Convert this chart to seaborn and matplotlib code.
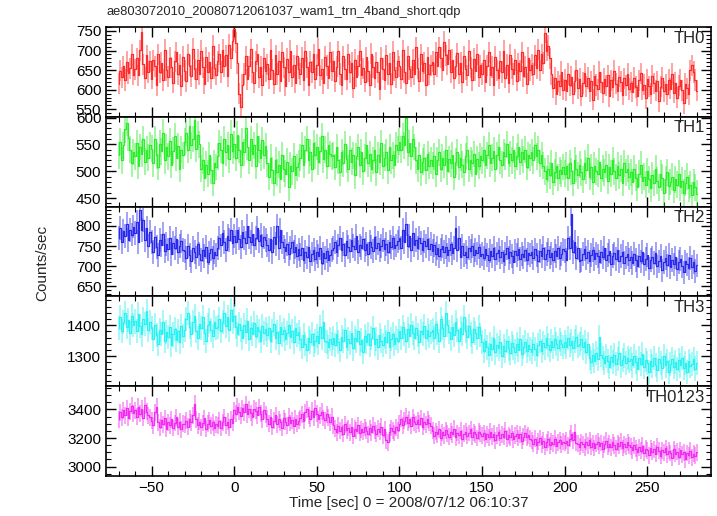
import numpy as np
import pandas as pd
import matplotlib
matplotlib.use("Agg")
import matplotlib.pyplot as plt
import seaborn as sns
from matplotlib.ticker import MultipleLocator

# 1 s time bins starting at t = -70 s
time_start = -70

th0 = [615, 648, 632, 660, 625, 671, 642, 655, 690, 638,
       652, 680, 637, 701, 748, 665, 630, 688, 645, 672,
       628, 675, 660, 612, 690, 645, 668, 625, 702, 650,
       633, 681, 657, 618, 672, 695, 640, 663, 610, 684,
       648, 622, 690, 661, 635, 705, 652, 628, 676, 640,
       699, 657, 615, 683, 646, 670, 630, 712, 655, 638,
       672, 690, 645, 702, 660, 688, 635, 715, 680, 725,
       755, 720, 668, 590, 555, 612, 640, 685, 627, 660,
       703, 645, 618, 672, 690, 632, 658, 611, 680, 647,
       665, 628, 702, 651, 615, 688, 640, 673, 622, 695,
       657, 610, 679, 646, 700, 633, 662, 618, 687, 654,
       640, 682, 625, 698, 657, 612, 671, 645, 690, 628,
       663, 705, 637, 652, 617, 684, 661, 630, 695, 648,
       672, 621, 659, 698, 640, 613, 685, 652, 627, 690,
       645, 668, 605, 677, 633, 661, 700, 638, 655, 620,
       683, 647, 612, 692, 658, 631, 670, 644, 602, 681,
       653, 626, 688, 640, 667, 615, 697, 650, 632, 674,
       660, 628, 701, 645, 617, 685, 652, 633, 676, 640,
       708, 655, 622, 690, 647, 668, 612, 683, 639, 662,
       671, 640, 695, 660, 708, 682, 650, 722, 688, 665,
       702, 645, 676, 630, 660, 693, 641, 668, 619, 685,
       652, 637, 700, 656, 625, 679, 648, 690, 633, 662,
       640, 675, 620, 661, 695, 637, 658, 612, 684, 650,
       629, 672, 645, 700, 631, 663, 618, 689, 654, 640,
       676, 623, 667, 648, 695, 634, 658, 615, 682, 650,
       663, 640, 688, 655, 702, 650, 690, 668, 745, 700,
       712, 680, 640, 605, 630, 588, 622, 610, 645, 600,
       625, 598, 640, 611, 633, 590, 622, 650, 604, 628,
       585, 617, 642, 609, 630, 596, 621, 575, 636, 612,
       601, 645, 619, 592, 628, 610, 637, 583, 624, 606,
       648, 615, 598, 633, 620, 587, 629, 611, 640, 602,
       618, 595, 630, 607, 585, 624, 642, 600, 613, 578,
       627, 609, 590, 635, 616, 598, 622, 571, 608, 630,
       596, 614, 588, 625, 603, 640, 592, 618, 580, 610,
       626, 599, 565, 615, 604, 588, 650, 662, 645, 625, 598]

th1 = [530, 555, 520, 548, 578, 590, 562, 540, 515, 536,
       528, 552, 510, 545, 533, 560, 518, 540, 525, 548,
       542, 515, 560, 530, 508, 551, 537, 572, 520, 545,
       528, 556, 512, 538, 565, 525, 547, 505, 540, 530,
       555, 572, 540, 585, 548, 560, 595, 542, 568, 550,
       505, 520, 488, 512, 495, 530, 502, 478, 515, 508,
       528, 552, 540, 515, 560, 535, 548, 522, 570, 538,
       550, 525, 568, 540, 512, 555, 535, 580, 545, 520,
       560, 532, 548, 510, 565, 540, 525, 558, 530, 547,
       515, 490, 525, 502, 478, 520, 498, 512, 485, 530,
       505, 495, 518, 470, 510, 500, 528, 492, 507, 515,
       525, 548, 512, 540, 560, 520, 535, 505, 552, 530,
       545, 518, 538, 565, 522, 540, 510, 548, 532, 528,
       530, 508, 545, 520, 498, 535, 515, 550, 522, 505,
       540, 518, 530, 492, 528, 545, 512, 535, 500, 525,
       548, 515, 532, 505, 520, 540, 498, 530, 518, 552,
       510, 525, 535, 502, 545, 520, 530, 512, 548, 540,
       555, 540, 565, 548, 600, 535, 552, 528, 560, 545,
       520, 505, 530, 498, 518, 525, 502, 532, 510, 520,
       510, 528, 495, 520, 535, 505, 525, 512, 540, 500,
       522, 515, 530, 490, 518, 535, 508, 525, 512, 498,
       528, 540, 505, 520, 515, 532, 495, 522, 510, 528,
       520, 540, 512, 530, 548, 515, 525, 538, 505, 530,
       545, 520, 512, 535, 528, 550, 515, 532, 520, 540,
       510, 528, 545, 518, 535, 522, 540, 508, 530, 525,
       535, 520, 548, 528, 540, 515, 530, 510, 500, 485,
       505, 492, 515, 480, 498, 510, 488, 502, 495, 508,
       495, 510, 488, 515, 500, 478, 520, 505, 492, 512,
       498, 485, 515, 502, 525, 490, 508, 480, 510, 500,
       495, 518, 487, 505, 498, 512, 482, 508, 495, 520,
       500, 488, 510, 492, 505, 478, 515, 498, 505, 490,
       498, 480, 505, 488, 470, 495, 512, 482, 490, 475,
       500, 485, 468, 492, 478, 505, 482, 470, 495, 488,
       460, 485, 498, 472, 480, 490, 465, 485, 475, 495,
       470, 482, 460, 478, 490, 468, 475, 455, 480, 470, 458]

th2 = [770, 795, 760, 788, 775, 805, 765, 790, 778, 798,
       782, 810, 760, 840, 790, 815, 765, 795, 750, 785,
       760, 735, 772, 748, 728, 765, 752, 780, 738, 755,
       742, 770, 730, 758, 745, 768, 735, 750, 762, 740,
       738, 720, 750, 728, 712, 745, 735, 722, 755, 730,
       715, 740, 725, 748, 710, 733, 742, 720, 735, 728,
       745, 770, 752, 782, 760, 740, 775, 765, 790, 758,
       775, 760, 790, 768, 748, 785, 770, 758, 800, 772,
       760, 780, 752, 770, 795, 762, 778, 750, 772, 765,
       752, 740, 768, 735, 772, 755, 800, 745, 790, 760,
       748, 738, 755, 730, 745, 760, 735, 748, 725, 742,
       728, 745, 715, 735, 722, 748, 712, 730, 740, 718,
       735, 725, 745, 708, 732, 720, 738, 715, 728, 740,
       745, 760, 735, 752, 770, 740, 755, 728, 762, 748,
       738, 765, 750, 742, 775, 735, 752, 745, 768, 740,
       755, 730, 760, 748, 738, 772, 745, 758, 740, 750,
       765, 742, 755, 735, 760, 748, 770, 745, 752, 762,
       770, 745, 790, 760, 805, 750, 775, 740, 782, 752,
       765, 745, 770, 758, 740, 762, 750, 768, 742, 755,
       738, 752, 730, 745, 725, 742, 750, 735, 748, 728,
       740, 755, 732, 745, 795, 740, 770, 722, 750, 728,
       735, 722, 745, 738, 750, 728, 740, 732, 748, 725,
       730, 720, 742, 728, 715, 738, 725, 745, 718, 732,
       740, 722, 735, 712, 730, 745, 720, 735, 725, 710,
       738, 728, 742, 718, 730, 722, 740, 715, 732, 728,
       735, 720, 742, 728, 712, 738, 725, 745, 718, 730,
       740, 722, 732, 715, 738, 725, 745, 720, 730, 742,
       738, 715, 770, 745, 830, 735, 760, 720, 745, 712,
       715, 730, 742, 720, 735, 712, 728, 740, 718, 732,
       725, 710, 735, 722, 745, 715, 728, 738, 705, 725,
       732, 718, 740, 712, 725, 735, 708, 722, 730, 715,
       722, 708, 730, 715, 700, 725, 712, 735, 705, 718,
       728, 695, 715, 722, 708, 732, 700, 712, 725, 690,
       710, 720, 702, 728, 698, 715, 705, 722, 692, 710,
       718, 700, 685, 712, 705, 695, 720, 698, 710, 688, 702]

th3 = [1390, 1425, 1380, 1410, 1440, 1395, 1418, 1375, 1430, 1402,
       1412, 1380, 1435, 1398, 1370, 1420, 1405, 1445, 1385, 1410,
       1390, 1355, 1400, 1368, 1340, 1385, 1372, 1410, 1350, 1378,
       1362, 1395, 1335, 1370, 1388, 1352, 1380, 1345, 1398, 1365,
       1385, 1420, 1440, 1395, 1370, 1410, 1430, 1380, 1360, 1405,
       1392, 1425, 1375, 1350, 1402, 1415, 1385, 1365, 1410, 1390,
       1395, 1420, 1380, 1410, 1440, 1398, 1425, 1385, 1450, 1412,
       1430, 1395, 1370, 1405, 1385, 1360, 1400, 1378, 1415, 1355,
       1390, 1372, 1408, 1365, 1395, 1380, 1350, 1398, 1375, 1388,
       1368, 1392, 1350, 1380, 1405, 1360, 1378, 1342, 1395, 1370,
       1385, 1355, 1375, 1400, 1362, 1380, 1345, 1390, 1368, 1378,
       1355, 1330, 1368, 1340, 1320, 1360, 1345, 1372, 1335, 1350,
       1365, 1342, 1395, 1360, 1410, 1350, 1345, 1330, 1355, 1338,
       1358, 1335, 1370, 1345, 1320, 1362, 1350, 1385, 1330, 1355,
       1342, 1375, 1325, 1360, 1348, 1380, 1338, 1352, 1315, 1365,
       1345, 1372, 1335, 1358, 1390, 1340, 1355, 1328, 1368, 1350,
       1335, 1362, 1345, 1378, 1330, 1355, 1370, 1340, 1360, 1348,
       1380, 1360, 1395, 1372, 1350, 1388, 1365, 1402, 1375, 1358,
       1390, 1368, 1345, 1382, 1372, 1398, 1360, 1385, 1365, 1378,
       1385, 1360, 1405, 1375, 1350, 1420, 1390, 1365, 1438, 1400,
       1378, 1355, 1395, 1368, 1410, 1385, 1348, 1392, 1372, 1425,
       1380, 1362, 1398, 1370, 1345, 1388, 1375, 1360, 1395, 1368,
       1345, 1318, 1350, 1328, 1305, 1340, 1322, 1358, 1312, 1335,
       1325, 1345, 1300, 1332, 1318, 1350, 1325, 1310, 1342, 1328,
       1315, 1338, 1320, 1355, 1308, 1330, 1345, 1318, 1335, 1322,
       1315, 1340, 1322, 1305, 1335, 1350, 1318, 1342, 1328, 1360,
       1335, 1320, 1348, 1330, 1355, 1338, 1325, 1352, 1340, 1330,
       1345, 1330, 1358, 1335, 1350, 1325, 1348, 1362, 1332, 1340,
       1355, 1328, 1345, 1315, 1338, 1295, 1280, 1305, 1285, 1310,
       1290, 1362, 1305, 1295, 1278, 1300, 1285, 1265, 1298, 1282,
       1305, 1275, 1292, 1310, 1270, 1288, 1302, 1278, 1295, 1285,
       1290, 1270, 1300, 1282, 1260, 1295, 1275, 1308, 1265, 1288,
       1278, 1250, 1285, 1268, 1295, 1272, 1255, 1290, 1278, 1262,
       1300, 1270, 1285, 1248, 1275, 1292, 1265, 1280, 1258, 1288,
       1270, 1295, 1262, 1278, 1250, 1285, 1268, 1275, 1290, 1260, 1278]

th0123 = [3330, 3380, 3345, 3395, 3360, 3410, 3340, 3388, 3425, 3372,
          3395, 3350, 3420, 3370, 3405, 3340, 3430, 3385, 3360, 3345,
          3320, 3290, 3380, 3420, 3310, 3275, 3325, 3295, 3340, 3265,
          3310, 3288, 3330, 3270, 3305, 3345, 3280, 3315, 3260, 3300,
          3295, 3320, 3280, 3335, 3310, 3360, 3440, 3330, 3290, 3315,
          3275, 3305, 3340, 3265, 3300, 3325, 3285, 3310, 3270, 3295,
          3285, 3320, 3270, 3310, 3345, 3290, 3315, 3275, 3330, 3305,
          3395, 3370, 3420, 3385, 3355, 3410, 3380, 3435, 3365, 3400,
          3375, 3345, 3405, 3390, 3360, 3415, 3370, 3330, 3395, 3365,
          3335, 3300, 3345, 3280, 3320, 3360, 3295, 3330, 3310, 3270,
          3340, 3315, 3290, 3350, 3305, 3325, 3285, 3335, 3300, 3320,
          3340, 3365, 3320, 3380, 3400, 3355, 3335, 3390, 3345, 3410,
          3370, 3330, 3360, 3385, 3340, 3325, 3365, 3345, 3310, 3350,
          3290, 3265, 3240, 3285, 3250, 3275, 3230, 3295, 3255, 3270,
          3240, 3280, 3215, 3265, 3250, 3290, 3235, 3260, 3245, 3275,
          3250, 3225, 3270, 3240, 3285, 3255, 3230, 3265, 3245, 3280,
          3220, 3260, 3185, 3170, 3240, 3270, 3250, 3235, 3275, 3255,
          3300, 3335, 3290, 3320, 3350, 3305, 3330, 3285, 3345, 3310,
          3295, 3325, 3300, 3340, 3280, 3315, 3295, 3330, 3305, 3285,
          3250, 3215, 3245, 3225, 3260, 3200, 3240, 3220, 3255, 3230,
          3210, 3245, 3225, 3265, 3205, 3235, 3220, 3250, 3195, 3230,
          3245, 3215, 3235, 3260, 3210, 3240, 3225, 3200, 3245, 3230,
          3215, 3235, 3195, 3225, 3205, 3245, 3210, 3230, 3185, 3220,
          3240, 3200, 3225, 3210, 3250, 3195, 3220, 3205, 3235, 3190,
          3215, 3230, 3200, 3225, 3180, 3210, 3235, 3205, 3220, 3195,
          3185, 3160, 3195, 3150, 3175, 3200, 3155, 3180, 3140, 3170,
          3190, 3150, 3175, 3160, 3195, 3145, 3170, 3185, 3155, 3175,
          3165, 3180, 3150, 3195, 3230, 3185, 3240, 3165, 3160, 3140,
          3170, 3155, 3135, 3175, 3150, 3185, 3140, 3165, 3130, 3160,
          3175, 3145, 3165, 3120, 3155, 3180, 3140, 3160, 3135, 3170,
          3150, 3125, 3165, 3145, 3175, 3130, 3155, 3140, 3170, 3150,
          3140, 3115, 3150, 3125, 3100, 3135, 3110, 3145, 3095, 3125,
          3115, 3080, 3130, 3105, 3120, 3090, 3140, 3110, 3075, 3115,
          3100, 3130, 3085, 3110, 3095, 3060, 3120, 3090, 3105, 3070,
          3115, 3085, 3100, 3050, 3095, 3080, 3110, 3065, 3090, 3075, 3100]

# typical 1-sigma error per band
errors = [27, 25, 29, 39, 59]
bands = ["TH0", "TH1", "TH2", "TH3", "TH0123"]
colors = ["#ff2a2a", "#2aee2a", "#2a2aee", "#2af2f2", "#f22af2"]
ylims = [(531, 760), (434, 601.5), (625, 848), (1203, 1493), (2934, 3563)]
major = [50, 50, 50, 100, 200]
minor = [10, 10, 10, 20, 50]
series = [th0, th1, th2, th3, th0123]

title = "ae803072010_20080712061037_wam1_trn_4band_short.qdp"

sns.set_theme(style="ticks")
plt.rcParams['font.family'] = ['Liberation Sans', 'DejaVu Sans']

fig, axes = plt.subplots(5, 1, figsize=(7.17, 5.16), dpi=100, sharex=True)
fig.subplots_adjust(left=0.148, right=0.9916, top=0.9477, bottom=0.0775, hspace=0)

for i, ax in enumerate(axes):
    y = series[i]
    t = time_start + np.arange(len(y))
    df = pd.DataFrame({"t": t, "rate": y})
    ax.errorbar(df["t"], df["rate"], yerr=errors[i], fmt="none",
                ecolor=colors[i], alpha=0.5, elinewidth=1.2)
    sns.lineplot(data=df, x="t", y="rate", ax=ax, color=colors[i],
                 drawstyle="steps-mid", linewidth=0.9, estimator=None)
    ax.set_xlim(-77.5, 288.5)
    ax.set_ylim(*ylims[i])
    ax.yaxis.set_major_locator(MultipleLocator(major[i]))
    ax.yaxis.set_minor_locator(MultipleLocator(minor[i]))
    ax.xaxis.set_major_locator(MultipleLocator(50))
    ax.xaxis.set_minor_locator(MultipleLocator(10))
    ax.tick_params(which="both", direction="in", top=True, right=True,
                   labelsize=11, colors="black")
    ax.tick_params(which="major", length=7, width=1)
    ax.tick_params(which="minor", length=3.5, width=0.8)
    for s in ax.spines.values():
        s.set_linewidth(1.2)
        s.set_color("black")
    ax.set_ylabel("")
    ax.set_xlabel("")
    ax.text(0.99, 0.96, bands[i], transform=ax.transAxes, ha="right",
            va="top", fontsize=12)

axes[-1].set_xlabel("Time [sec] 0 = 2008/07/12 06:10:37", fontsize=11, labelpad=1)
fig.text(0.059, 0.49, "Counts/sec", rotation=90, ha="center", va="center", fontsize=11)
fig.text(0.149, 0.976, title, ha="left", va="center", fontsize=9.3)

fig.savefig("out.png", dpi=100)
